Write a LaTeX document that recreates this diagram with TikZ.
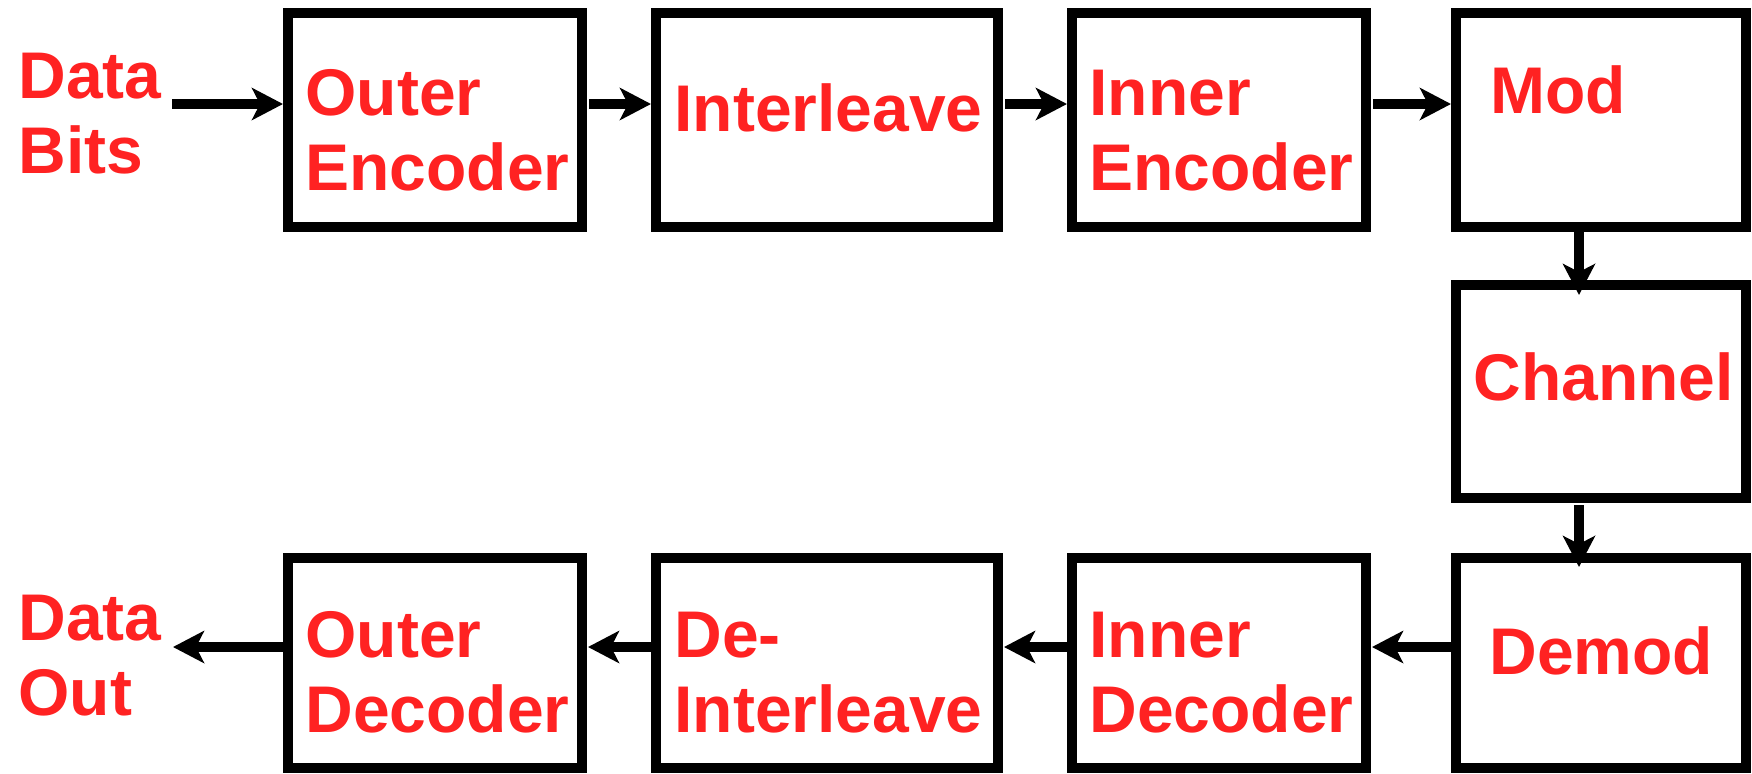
\documentclass[tikz,border=0pt]{standalone}
\usepackage{fontspec}
\setmainfont{Liberation Sans}
\usetikzlibrary{arrows.meta,calc}
\definecolor{lblred}{RGB}{255,34,34}
\begin{document}
\begin{tikzpicture}[x=0.5pt,y=-0.5pt,
  box/.style={draw=black, line width=5pt, inner sep=0pt},
  lbl/.style={text=lblred, font=\fontsize{33}{37.5}\selectfont\bfseries, align=left, anchor=base west, inner sep=0pt},
  arr/.style={line width=5pt, -{Stealth[length=15.5pt,width=16pt,inset=4pt]}}]
\useasboundingbox (0,0) rectangle (1752,773);
% boxes
\node[box, minimum width=147pt, minimum height=107pt] (oe) at (435,120) {};
\node[box, minimum width=171pt, minimum height=107pt] (il) at (827,120) {};
\node[box, minimum width=147pt, minimum height=107pt] (ie) at (1219,120) {};
\node[box, minimum width=145pt, minimum height=107pt] (mod) at (1601,120) {};
\node[box, minimum width=145pt, minimum height=106.5pt] (ch) at (1601,391.5) {};
\node[box, minimum width=145pt, minimum height=105pt] (dm) at (1601,663) {};
\node[box, minimum width=147pt, minimum height=105pt] (id) at (1219,663) {};
\node[box, minimum width=171pt, minimum height=105pt] (dil) at (827,663) {};
\node[box, minimum width=147pt, minimum height=105pt] (od) at (435,663) {};
% labels
\node[lbl] (tdin) at (18,173) {Data\\Bits};
\node[lbl] (toe) at (305,190) {Outer\\Encoder};
\node[lbl] (til) at (674,131) {Interleave};
\node[lbl] (tie) at (1089,190) {Inner\\Encoder};
\node[lbl] (tmod) at (1490,113) {Mod};
\node[lbl] (tch) at (1473,400) {Channel};
\node[lbl] (tdm) at (1489,674) {Demod};
\node[lbl] (tid) at (1089,732) {Inner\\Decoder};
\node[lbl] (tdil) at (674,732) {De-\\Interleave};
\node[lbl] (tod) at (305,732) {Outer\\Decoder};
\node[lbl] (tdout) at (18,715) {Data\\Out};
% connectors
\coordinate (dinA) at (172,104);
\coordinate (doutA) at (173,647);
\coordinate (vx) at (1579,0);
\draw[arr] (dinA) -- (oe.west |- dinA);
\draw[arr] ($(oe.east |- dinA)+(2,0)$) -- (il.west |- dinA);
\draw[arr] ($(il.east |- dinA)+(2,0)$) -- (ie.west |- dinA);
\draw[arr] ($(ie.east |- dinA)+(2,0)$) -- (mod.west |- dinA);
\draw[arr] (mod.south -| vx) -- ($(ch.north -| vx)+(0,15)$);
\draw[arr] ($(ch.south -| vx)+(0,2)$) -- ($(dm.north -| vx)+(0,14)$);
\draw[arr] (dm.west |- doutA) -- ($(id.east |- doutA)+(1,0)$);
\draw[arr] (id.west |- doutA) -- ($(dil.east |- doutA)+(1,0)$);
\draw[arr] (dil.west |- doutA) -- ($(od.east |- doutA)+(1,0)$);
\draw[arr] (od.west |- doutA) -- (doutA);
\end{tikzpicture}
\end{document}
